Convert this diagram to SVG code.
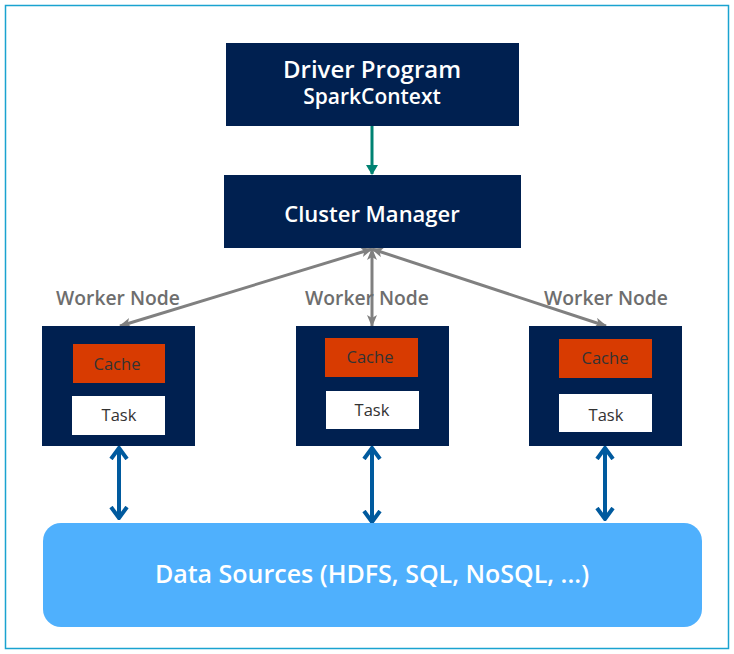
<svg xmlns="http://www.w3.org/2000/svg" width="734" height="654" viewBox="0 0 734 654">
<style>
.navy{fill:#002050}
.cache{fill:#d83b01}
.task{fill:#ffffff}
.t{font-family:"Open Sans","Noto Sans",sans-serif;text-anchor:middle}
.w{fill:#ffffff;font-weight:600}
.lbl{fill:#6e6e6e;font-weight:600;font-size:19.3px}
.inner{fill:#333333;font-size:16.5px}
.gray{stroke:#808080;stroke-width:3;fill:none}
.blue{stroke:#005a9e;stroke-width:4;fill:none}
.teal{stroke:#008272;stroke-width:3;fill:none}
</style>
<defs>
<marker id="gh" viewBox="0 0 12 10" refX="11" refY="5" markerWidth="12" markerHeight="10" markerUnits="userSpaceOnUse" orient="auto-start-reverse">
<path d="M0,0 L12,5 L0,10 L3,5 Z" fill="#808080"/>
</marker>
<marker id="th" viewBox="0 0 10 12" refX="9" refY="6" markerWidth="10" markerHeight="12" markerUnits="userSpaceOnUse" orient="auto">
<path d="M0,0 L10,6 L0,12 Z" fill="#008272"/>
</marker>
<marker id="bh" viewBox="0 0 14 20" refX="12" refY="10" markerWidth="14" markerHeight="20" markerUnits="userSpaceOnUse" orient="auto-start-reverse">
<path d="M1,2 L12,10 L1,18" fill="none" stroke="#005a9e" stroke-width="4" stroke-linejoin="miter"/>
</marker>
</defs>
<rect x="5.5" y="5.5" width="723" height="643" fill="#ffffff" stroke="#1aa3d0" stroke-width="1.5"/>
<g id="connectors">
<line class="teal" x1="372" y1="126" x2="372" y2="174" marker-end="url(#th)"/>
<line class="gray" x1="372" y1="249" x2="120" y2="326" marker-start="url(#gh)" marker-end="url(#gh)"/>
<line class="gray" x1="372" y1="249" x2="372" y2="326" marker-start="url(#gh)" marker-end="url(#gh)"/>
<line class="gray" x1="372" y1="249" x2="606" y2="326" marker-start="url(#gh)" marker-end="url(#gh)"/>
<line class="blue" x1="119" y1="448" x2="119" y2="518" marker-start="url(#bh)" marker-end="url(#bh)"/>
<line class="blue" x1="372" y1="448" x2="372" y2="522" marker-start="url(#bh)" marker-end="url(#bh)"/>
<line class="blue" x1="605" y1="448" x2="605" y2="519" marker-start="url(#bh)" marker-end="url(#bh)"/>
</g>
<g id="driver">
<rect class="navy" x="226" y="43" width="293" height="83"/>
<text class="t w" x="372" y="78" font-size="24">Driver Program</text>
<text class="t w" x="372" y="103.5" font-size="21">SparkContext</text>
</g>
<g id="cluster-manager">
<rect class="navy" x="224" y="175" width="297" height="73"/>
<text class="t w" x="372" y="222" font-size="22">Cluster Manager</text>
</g>
<g id="worker1">
<text class="t lbl" x="118" y="305">Worker Node</text>
<rect class="navy" x="42" y="326" width="153" height="120"/>
<rect class="cache" x="73" y="344" width="92" height="39"/>
<text class="t inner" x="117" y="370">Cache</text>
<rect class="task" x="72" y="396" width="93" height="39"/>
<text class="t inner" x="119" y="421">Task</text>
</g>
<g id="worker2">
<text class="t lbl" x="367" y="305">Worker Node</text>
<rect class="navy" x="296" y="326" width="153" height="120"/>
<rect class="cache" x="325" y="338" width="93" height="39"/>
<text class="t inner" x="370" y="363">Cache</text>
<rect class="task" x="326" y="391" width="93" height="38"/>
<text class="t inner" x="372" y="416">Task</text>
</g>
<g id="worker3">
<text class="t lbl" x="606" y="305">Worker Node</text>
<rect class="navy" x="529" y="326" width="153" height="120"/>
<rect class="cache" x="559" y="339" width="93" height="39"/>
<text class="t inner" x="605" y="364">Cache</text>
<rect class="task" x="559" y="394" width="93" height="38"/>
<text class="t inner" x="606" y="421">Task</text>
</g>
<g id="data-sources">
<rect x="43" y="523" width="659" height="104" rx="18" fill="#4fb0fd"/>
<text class="t w" x="372" y="583" font-size="25">Data Sources (HDFS, SQL, NoSQL, ...)</text>
</g>
</svg>
